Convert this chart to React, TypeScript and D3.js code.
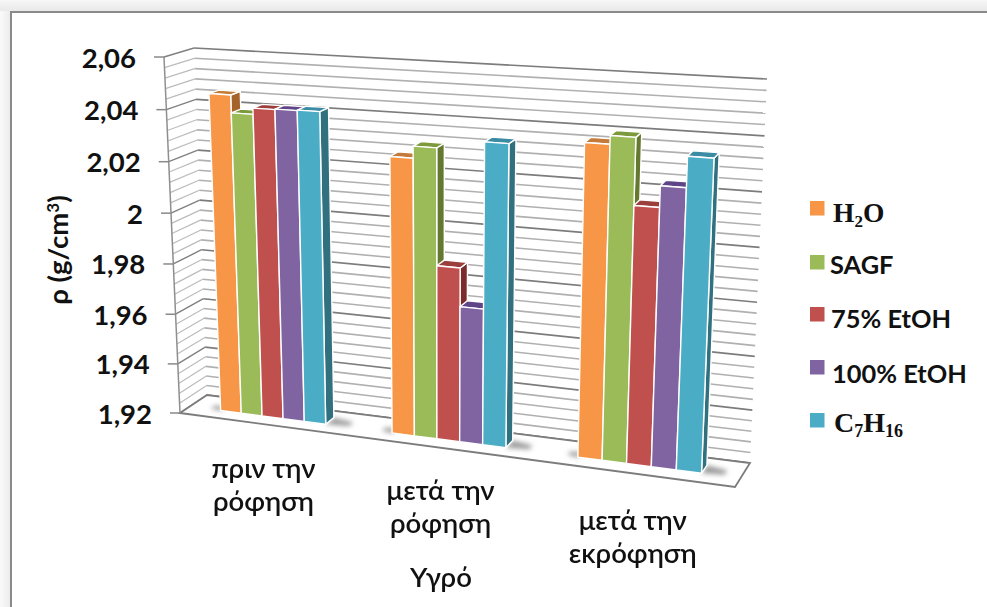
import React from "react";
import * as d3 from "d3";

// Chart content
const categories = ["πριν την ρόφηση", "μετά την ρόφηση", "μετά την εκρόφηση"];
const categoryLines = [["πριν την", "ρόφηση"], ["μετά την", "ρόφηση"], ["μετά την", "εκρόφηση"]];
const seriesNames = ["H2O", "SAGF", "75% EtOH", "100% EtOH", "C7H16"];
const h2oValues = [2.0456, 2.0267, 2.0371];
const sagfValues = [2.0388, 2.0312, 2.0402];
const etoh75Values = [2.0412, 1.987, 2.0158];
const etoh100Values = [2.0414, 1.9723, 2.0236];
const c7h16Values = [2.0416, 2.0347, 2.0348];
const seriesValues = [h2oValues, sagfValues, etoh75Values, etoh100Values, c7h16Values];
const yTicks = [1.92, 1.94, 1.96, 1.98, 2, 2.02, 2.04, 2.06];
const tickLabels = ["1,92", "1,94", "1,96", "1,98", "2", "2,02", "2,04", "2,06"];

// Face colours per series: front, top, side
const frontColors = ["#F79646", "#9BBB59", "#C0504D", "#8064A2", "#4BACC6"];
const topColors = ["#C47A38", "#7C9A3C", "#9C3E3C", "#5F4487", "#3A8BA3"];
const sideColors = ["#A5622A", "#64792F", "#7B2C2A", "#553B78", "#30707F"];

type Pt = [number, number];

// Corners of the 3D plot box on screen
const boxFront = { lb: [180, 413] as Pt, rb: [735, 487] as Pt, lt: [164, 57] as Pt, rt: [753, 94] as Pt };
const boxBack = { lb: [207, 395] as Pt, rb: [750, 463] as Pt, lt: [194, 48] as Pt, rt: [767, 79] as Pt };

const lerp = (a: number, b: number, t: number) => a + (b - a) * t;
const lerpPt = (a: Pt, b: Pt, t: number): Pt => [lerp(a[0], b[0], t), lerp(a[1], b[1], t)];

// Foreshortening along the category and value directions
const foreshorten = (t: number, k: number) => (t * k) / (1 + (k - 1) * t);
const fromCategory = (t: number) => foreshorten(t, 0.885);

const valueScale = d3.scaleLinear().domain([1.92, 2.06]).range([0, 1]);
const fromValue = (value: number) => foreshorten(valueScale(value), 0.96);

const project = (u: number, v: number, d: number): Pt => {
  const front = lerpPt(lerpPt(boxFront.lb, boxFront.rb, u), lerpPt(boxFront.lt, boxFront.rt, u), v);
  const back = lerpPt(lerpPt(boxBack.lb, boxBack.rb, u), lerpPt(boxBack.lt, boxBack.rt, u), v);
  return lerpPt(front, back, d);
};

const polyPath = (pts: Pt[]) => (d3.line()(pts) as string) + "Z";

const categoryBand = d3.scaleBand<number>().domain(d3.range(categories.length)).range([0, 1]).paddingInner(0.378).paddingOuter(0.189);
const seriesBand = d3.scaleBand<number>().domain(d3.range(seriesNames.length)).range([0, categoryBand.bandwidth()]);

const barNear = 0.36;
const barFar = 0.7;
const floorV = 0;

// Gridlines every 0.004, with every fifth one on an axis tick
const gridCount = 35;
const gridLines = d3.range(gridCount + 1).map((i) => ({ v: fromValue(1.92 + (i * 0.14) / gridCount), major: i % 5 === 0 }));

const labelDrop = [54, 52, 57];
const legendRows = [208, 262, 314, 367, 420];
const legendBaselines = [222, 274, 328, 383, 432];
const legendTextX = [833, 830, 831, 832, 834];

const sansFont = "Lato, 'Noto Sans', sans-serif";
const serifFont = "'Liberation Serif', serif";

function LegendLabel({ index }: { index: number }) {
  const x = legendTextX[index];
  const y = legendBaselines[index];
  if (index === 0) {
    return (
      <text x={x} y={y} fontFamily={serifFont} fontWeight={700} fontSize={27.5} fill="#111">
        H<tspan fontSize={17} dy={5}>2</tspan><tspan dy={-5}>O</tspan>
      </text>
    );
  }
  if (index === 4) {
    return (
      <text x={x} y={y} fontFamily={serifFont} fontWeight={700} fontSize={28} fill="#111">
        C<tspan fontSize={18} dy={5}>7</tspan><tspan dy={-5}>H</tspan><tspan fontSize={18} dy={5}>16</tspan>
      </text>
    );
  }
  return (
    <text x={x} y={y} fontFamily={sansFont} fontWeight={700} fontSize={25.4} fill="#111">
      {seriesNames[index]}
    </text>
  );
}

export default function App() {
  const bars = categories.flatMap((_, c) =>
    seriesNames.map((_, s) => {
      const t0 = (categoryBand(c) as number) + (seriesBand(s) as number);
      const t1 = t0 + seriesBand.bandwidth();
      const u0 = fromCategory(t0);
      const u1 = fromCategory(t1);
      const v = fromValue(seriesValues[s][c]);
      return {
        key: `${c}-${s}`,
        s,
        front: [project(u0, floorV, barNear), project(u1, floorV, barNear), project(u1, v, barNear), project(u0, v, barNear)] as Pt[],
        top: [project(u0, v, barNear), project(u1, v, barNear), project(u1, v, barFar), project(u0, v, barFar)] as Pt[],
        side: [project(u1, floorV, barNear), project(u1, floorV, barFar), project(u1, v, barFar), project(u1, v, barNear)] as Pt[],
      };
    })
  );

  const shadows = categories.flatMap((_, c) => {
    const start = categoryBand(c) as number;
    const end = start + categoryBand.bandwidth();
    const right = fromCategory(end);
    const left = fromCategory(start);
    return [
      [project(right, 0, barNear), project(right + 0.04, 0, barNear + 0.06), project(right + 0.04, 0, barFar - 0.1), project(right, 0, barFar)] as Pt[],
      [project(left - 0.02, 0, barNear + 0.04), project(left, 0, barNear), project(left, 0, barFar - 0.12), project(left - 0.02, 0, barFar - 0.16)] as Pt[],
    ];
  });

  return (
    <svg width={987} height={607} style={{ position: "fixed", left: 0, top: 0, display: "block", background: "#fff" }}>
      <defs>
        <linearGradient id="edgeTop" x1="0" y1="0" x2="0" y2="1">
          <stop offset="0" stopColor="#f7f7f7" />
          <stop offset="1" stopColor="#e9e9e9" />
        </linearGradient>
        <linearGradient id="edgeLeft" x1="0" y1="0" x2="1" y2="0">
          <stop offset="0" stopColor="#fafafa" />
          <stop offset="1" stopColor="#ececec" />
        </linearGradient>
        <filter id="floorShadow" x="-100%" y="-100%" width="300%" height="300%">
          <feGaussianBlur stdDeviation={2.5} />
        </filter>
      </defs>

      {/* Window edge around the chart area */}
      <rect x={0} y={0} width={987} height={11} fill="url(#edgeTop)" />
      <rect x={0} y={11} width={10} height={596} fill="url(#edgeLeft)" />
      <path d="M11,607V12H987" fill="none" stroke="#8a8a8a" strokeWidth={2} />

      {/* Side and back wall gridlines */}
      {gridLines.map((g, i) => (
        <g key={i}>
          <path
            d={d3.line()([project(0, g.v, 0), project(0, g.v, 1)]) as string}
            stroke={g.major ? "#808080" : "#bcbcbc"}
            strokeWidth={g.major ? 1.4 : 1.2}
            fill="none"
          />
          <path
            d={d3.line()([project(0, g.v, 1), project(1, g.v, 1)]) as string}
            stroke={g.major ? "#7c7c7c" : "#b0b0b0"}
            strokeWidth={g.major ? 1.7 : 1.6}
            fill="none"
          />
        </g>
      ))}

      {/* Floor outline and value axis */}
      <path
        d={polyPath([project(0, 0, 0), project(1, 0, 0), project(1, 0, 1), project(0, 0, 1)])}
        fill="#fff"
        stroke="#7c7c7c"
        strokeWidth={1.8}
      />
      <path d={d3.line()([project(0, 0, 0), project(0, 1, 0)]) as string} stroke="#8f8f8f" strokeWidth={1.5} fill="none" />

      {yTicks.map((t, i) => {
        const [x, y] = project(0, fromValue(t), 0);
        return (
          <g key={t}>
            <line x1={x - 10} x2={x} y1={y} y2={y} stroke="#8a8a8a" strokeWidth={1.5} />
            <text
              transform={`translate(${x - 28},${y + 10.5})`}
              textAnchor="end"
              fontFamily={sansFont}
              fontWeight={700}
              fontSize={27.5}
              fill="#111"
            >
              {tickLabels[i]}
            </text>
          </g>
        );
      })}

      <g filter="url(#floorShadow)">
        {shadows.map((pts, i) => (
          <path key={i} d={polyPath(pts)} fill="#808080" opacity={0.8} />
        ))}
      </g>

      {/* Bars, painted left to right so each front covers its neighbour's side */}
      {bars.map((b) => (
        <g key={b.key} stroke="#fff" strokeWidth={1.4} strokeLinejoin="round">
          <path d={polyPath(b.side)} fill={sideColors[b.s]} />
          <path d={polyPath(b.top)} fill={topColors[b.s]} />
          <path d={polyPath(b.front)} fill={frontColors[b.s]} />
        </g>
      ))}

      {/* Category labels */}
      {categoryLines.map((lines, c) => {
        const t = (categoryBand(c) as number) + categoryBand.bandwidth() / 2;
        const [x, y] = project(fromCategory(t), 0, 0);
        return (
          <text key={c} x={x} y={y + labelDrop[c]} textAnchor="middle" fontFamily={sansFont} fontWeight={600} fontSize={27.5} fill="#111">
            {lines.map((line, i) => (
              <tspan key={i} x={x} dy={i === 0 ? 0 : 33}>
                {line}
              </tspan>
            ))}
          </text>
        );
      })}
      <text x={441} y={587} textAnchor="middle" fontFamily={sansFont} fontWeight={600} fontSize={27.5} fill="#111">
        Υγρό
      </text>

      {/* Value axis title */}
      <text transform="translate(68,250) rotate(-90)" textAnchor="middle" fontFamily={sansFont} fontWeight={700} fontSize={27.5} fill="#111">
        ρ (g/cm<tspan fontSize={17} dy={-9}>3</tspan><tspan dy={9}>)</tspan>
      </text>

      {/* Legend */}
      {seriesNames.map((_, i) => (
        <g key={i}>
          <rect x={810} y={legendRows[i] - 7} width={14.5} height={14.5} fill={frontColors[i]} />
          <LegendLabel index={i} />
        </g>
      ))}
    </svg>
  );
}
